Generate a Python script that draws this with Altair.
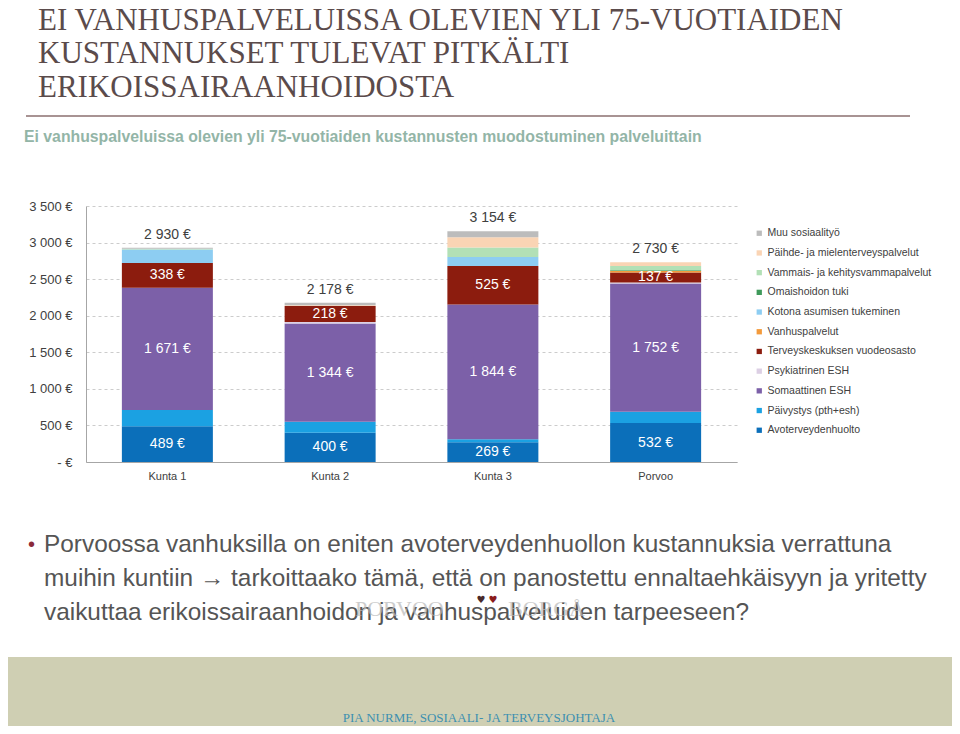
import altair as alt
import pandas as pd

# ---------------- data ----------------
cities = ["Kunta 1", "Kunta 2", "Kunta 3", "Porvoo"]
categories = [
    "Avoterveydenhuolto",
    "Päivystys (pth+esh)",
    "Somaattinen ESH",
    "Psykiatrinen ESH",
    "Terveyskeskuksen vuodeosasto",
    "Vanhuspalvelut",
    "Kotona asumisen tukeminen",
    "Omaishoidon tuki",
    "Vammais- ja kehitysvammapalvelut",
    "Päihde- ja mielenterveyspalvelut",
    "Muu sosiaalityö",
]
colors = ["#0b6fba", "#1ba1e2", "#7c60a8", "#dccfe4", "#8c1c0e", "#f39a3b",
          "#8dcdf2", "#3f9a5b", "#b2e0b6", "#fad4b4", "#bcbcbc"]

avo = [489, 400, 269, 532]
paivystys = [222, 150, 41, 156]
somaattinen = [1671, 1344, 1844, 1752]
psykiatrinen = [0, 20, 0, 15]
tk_vuodeosasto = [338, 218, 525, 137]
vanhuspalvelut = [0, 0, 0, 20]
kotona = [185, 0, 125, 0]
omaishoito = [0, 0, 0, 10]
vammais = [12, 0, 130, 58]
paihde = [0, 10, 140, 50]
muu = [13, 36, 80, 0]

series = [avo, paivystys, somaattinen, psykiatrinen, tk_vuodeosasto, vanhuspalvelut,
          kotona, omaishoito, vammais, paihde, muu]
labelled = ["Avoterveydenhuolto", "Somaattinen ESH", "Terveyskeskuksen vuodeosasto"]
y_ticks = [0, 500, 1000, 1500, 2000, 2500, 3000, 3500]

title_lines = ["EI VANHUSPALVELUISSA OLEVIEN YLI 75-VUOTIAIDEN",
               "KUSTANNUKSET TULEVAT PITKÄLTI",
               "ERIKOISSAIRAANHOIDOSTA"]
subtitle = "Ei vanhuspalveluissa olevien yli 75-vuotiaiden kustannusten muodostuminen palveluittain"
bullet_lines = ["Porvoossa vanhuksilla on eniten avoterveydenhuollon kustannuksia verrattuna",
                "muihin kuntiin \u2192 tarkoittaako tämä, että on panostettu ennaltaehkäisyyn ja yritetty",
                "vaikuttaa erikoissairaanhoidon ja vanhuspalveluiden tarpeeseen?"]
footer = "PIA NURME, SOSIAALI- JA TERVEYSJOHTAJA"


def euro(v):
    return f"{v:,}".replace(",", " ") + " €"


rows = []
totals = []
for ci, city in enumerate(cities):
    base = 0
    for k, cat in enumerate(categories):
        v = series[k][ci]
        rows.append({"city": city, "cat": cat, "idx": k, "value": v,
                     "y0": base, "y1": base + v, "mid": base + v / 2,
                     "label": euro(v) if cat in labelled else ""})
        base += v
    totals.append({"city": city, "total": base, "label": euro(base)})
df = pd.DataFrame(rows)
tot = pd.DataFrame(totals)
one = pd.DataFrame({"a": [0]})

W, H = 651, 256
PL, PT = 78, 198
SW, SH = 944, 718

font = "Liberation Sans"
serif = "Liberation Serif"

xaxis = alt.Axis(labelAngle=0, ticks=False, labelFontSize=11, labelColor="#404040",
                 labelPadding=8, domainColor="#a6a6a6", grid=False, labelFont=font, title=None)
yaxis = alt.Axis(values=y_ticks, labelOverlap=False, title=None,
                 labelExpr="datum.value == 0 ? '-   €' : replace(format(datum.value, ','), ',', ' ') + ' €'",
                 ticks=False, grid=True, gridDash=[3, 3], gridColor="#cccccc",
                 domainColor="#a6a6a6", labelFontSize=13, labelColor="#404040",
                 labelPadding=14, labelFont=font)
xscale = alt.Scale(paddingInner=0, paddingOuter=0)
yscale = alt.Scale(domain=[0, 3500], nice=False)

bars = alt.Chart(df).mark_bar(size=91).encode(
    x=alt.X("city:N", sort=cities, scale=xscale, axis=xaxis),
    y=alt.Y("y0:Q", scale=yscale, axis=yaxis),
    y2="y1:Q",
    color=alt.Color("cat:N", scale=alt.Scale(domain=categories[::-1], range=colors[::-1]),
                    legend=alt.Legend(orient="none", legendX=668, legendY=22, title=None,
                                      symbolType="square", symbolSize=28, symbolStrokeWidth=0,
                                      labelFontSize=10.5, labelColor="#404040", labelFont=font,
                                      rowPadding=8.7, labelLimit=260, labelOffset=3)),
)

seg_labels = alt.Chart(df[df["label"] != ""]).mark_text(
    fontSize=14, color="#ffffff", baseline="middle", font=font
).encode(x=alt.X("city:N", sort=cities, scale=xscale, axis=xaxis),
         y=alt.Y("mid:Q", scale=yscale, axis=yaxis), text="label:N")

tot_labels = alt.Chart(tot).mark_text(
    fontSize=14, color="#404040", baseline="middle", dy=-13, font=font
).encode(x=alt.X("city:N", sort=cities, scale=xscale, axis=xaxis),
         y=alt.Y("total:Q", scale=yscale, axis=yaxis), text="label:N")

layers = []
# olive bottom band
layers.append(alt.Chart(one).mark_rect(color="#cfcfb3").encode(
    x=alt.value(-PL), x2=alt.value(SW - PL), y=alt.value(657 - 206), y2=alt.value(SH - PT)))
layers += [bars, seg_labels, tot_labels]


def txt(t, x, y, **kw):
    return alt.Chart(one).mark_text(text=t, **kw).encode(x=alt.value(x), y=alt.value(y))


for t, yb in zip(title_lines, [30, 63, 97]):
    layers.append(txt(t, 38 - 86, yb - 206, font=serif, fontSize=31, color="#5b4b4b",
                      align="left", baseline="alphabetic"))
layers.append(alt.Chart(one).mark_rule(color="#8b6f6f", strokeWidth=1.5).encode(
    x=alt.value(26 - 86), x2=alt.value(910 - 86), y=alt.value(116 - 206)))
layers.append(txt(subtitle, 24 - 86, 137 - 206, font=font, fontSize=15.8, fontWeight="bold",
                  color="#93b5a7", align="left", baseline="middle"))
layers.append(txt("\u2022", 28 - 86, 545 - 206, font=font, fontSize=20, color="#8b2a3a",
                  align="left", baseline="middle"))
for t, yc in zip(bullet_lines, [545, 579, 613]):
    layers.append(txt(t, 44 - 86, yc - 206, font=font, fontSize=24.4, color="#555555",
                      align="left", baseline="middle"))
# faint logo overlay
layers.append(txt("PORVOO", 355 - 86, 609 - 206, font=serif, fontSize=22, color="#b8b8b8",
                  align="left", baseline="middle", opacity=0.7))
layers.append(txt("BORGÅ", 508 - 86, 609 - 206, font=serif, fontSize=22, color="#b8b8b8",
                  align="left", baseline="middle", opacity=0.7))
for sym, cx, cy, c in [("\u2665", 481, 600, "#4a2a2a"), ("\u2665", 493, 600, "#8b1c1c")]:
    layers.append(txt(sym, cx - 86, cy - 206, font="DejaVu Sans", fontSize=10, color=c,
                      align="center", baseline="middle"))
layers.append(txt(footer, 479 - 86, 718 - 206, font=serif, fontSize=13, color="#3d8fb0",
                  align="center", baseline="middle"))

chart = alt.layer(*layers).properties(
    width=W, height=H,
    autosize=alt.AutoSizeParams(type="none"),
    padding={"left": PL, "top": PT, "right": SW - PL - W, "bottom": SH - PT - H},
    background="#ffffff",
).configure(font=font).configure_view(stroke=None)

chart.save("out.html", embed_options={"renderer": "svg", "actions": False})
